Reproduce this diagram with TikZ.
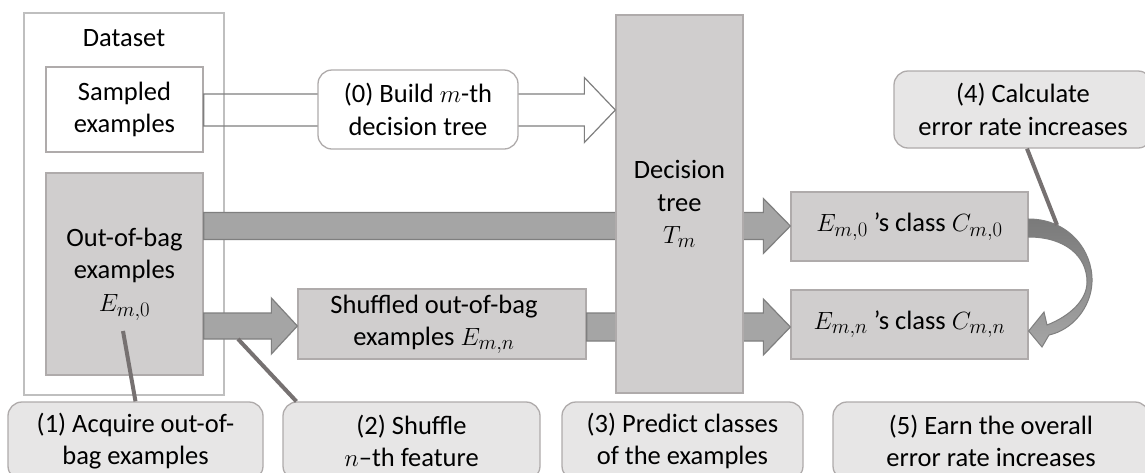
\documentclass[tikz,border=0pt]{standalone}
\usepackage{fontspec}
\setmainfont{Carlito}
\usetikzlibrary{calc}
\definecolor{boxgray}{HTML}{D0CECE}
\definecolor{boxline}{HTML}{AFABAB}
\definecolor{dsline}{HTML}{BFBFBF}
\definecolor{callfill}{HTML}{E7E6E6}
\definecolor{arrfill}{HTML}{A5A5A5}
\definecolor{arrline}{HTML}{7F7F7F}
\definecolor{arrdark}{HTML}{7A7A7A}
\definecolor{ptrline}{HTML}{767171}
\newcommand\harrow[6]{%
  \draw[#1] let \p1=(#2), \p2=(#3) in
   (\x1,\y1+#4) -- (\x2-#6,\y1+#4) -- (\x2-#6,\y1+#5) -- (\x2,\y1) --
   (\x2-#6,\y1-#5) -- (\x2-#6,\y1-#4) -- (\x1,\y1-#4) -- cycle;}
\newcommand\mth[1]{{\fontsize{29}{32.5}\selectfont$#1$}}
\begin{document}
\begin{tikzpicture}[x=1pt,y=-1pt,font=\fontsize{26.5}{32.5}\selectfont,
  graybox/.style={draw=boxline,fill=boxgray,line width=1.3pt,inner sep=0pt,align=center},
  whitebox/.style={draw=boxline,fill=white,line width=1.3pt,inner sep=0pt,align=center},
  dsbox/.style={draw=dsline,fill=white,line width=1.3pt,inner sep=0pt},
  callout/.style={draw=boxline,fill=callfill,line width=1.3pt,rounded corners=14pt,inner sep=0pt,align=center},
  wcallout/.style={draw=boxline,fill=white,line width=1.3pt,rounded corners=14pt,inner sep=0pt,align=center},
  fatarrow/.style={draw=arrline,fill=arrfill,line width=1.2pt,line join=miter},
  hollowarrow/.style={draw=arrline,line width=1.2pt,line join=miter},
  pointer/.style={draw=ptrline,line width=4pt},
  plain/.style={inner sep=0pt,align=center}]
\useasboundingbox (0,0) rectangle (1145,472);
\clip (0,0) rectangle (1145,472);
\fill[white] (0,0) rectangle (1145,472);

% dataset container
\node[dsbox,minimum width=200pt,minimum height=382pt] (ds) at (124,204) {};
\node[plain] (dstitle) at (124,38) {Dataset};
\node[whitebox,minimum width=157pt,minimum height=85pt] (sampled) at (124.5,109.5) {Sampled\\examples};

\node[graybox,minimum width=157pt,minimum height=202pt] (oob) at (124.5,274) {Out-of-bag\\examples\\\mth{E_{m,0}}};

% boxes on the right
\node[graybox,minimum width=288pt,minimum height=70pt] (shuf) at (442,324) {Shuffled out-of-bag\hspace*{16pt}\\examples \mth{E_{m,n}}\hspace*{16pt}};
\node[graybox,minimum width=237pt,minimum height=69pt] (E0) at (909.5,226.5) {\mth{E_{m,0}} ’s class \mth{C_{m,0}}};
\node[graybox,minimum width=237pt,minimum height=69pt] (En) at (909.5,324.5) {\mth{E_{m,n}} ’s class \mth{C_{m,n}}};

% fat arrows
\harrow{fatarrow}{oob.east |- 0,226}{E0.west}{13.5pt}{27.5pt}{27pt}
\harrow{fatarrow}{oob.east |- 0,326}{shuf.west}{13pt}{28pt}{26pt}
\harrow{fatarrow}{shuf.east |- 0,327}{En.west}{14pt}{28pt}{27pt}

% decision tree
\node[graybox,minimum width=127pt,minimum height=378pt] (dtree) at (679.5,204) {Decision\\tree\\\mth{T_m}};

% white arrow (0)
\harrow{hollowarrow}{sampled.east |- 0,110}{dtree.west}{16pt}{32.5pt}{31pt}

% curved arrow from E0 to En
\path[top color=arrdark,bottom color=arrfill,draw=arrline,line width=1pt,line join=miter]
  (E0.east |- 0,219) .. controls (1068,219) and (1093,250) .. (1092,282)
  .. controls (1091,308) and (1072,330) .. (1049,335)
  -- (1042,347) -- (En.east |- 0,331) -- (1044,312) -- (1047,325)
  .. controls (1070,316) and (1087,300) .. (1087,282)
  .. controls (1087,256) and (1065,237) .. (E0.east |- 0,237) -- cycle;

% callouts
\node[wcallout,minimum width=200pt,minimum height=79pt] (c0) at (418,109.5) {(0) Build \mth{m}-th\\decision tree};
\node[callout,minimum width=255pt,minimum height=78pt] (c1) at (135.5,441) {(1) Acquire out-of-\\bag examples};
\node[callout,minimum width=257pt,minimum height=78pt] (c2) at (411.5,441) {(2) Shuffle\\\mth{n}–th feature};
\node[callout,minimum width=241pt,minimum height=78pt] (c3) at (682.5,441) {(3) Predict classes\\of the examples};
\node[callout,minimum width=258pt,minimum height=77pt] (c4) at (1023,109.5) {(4) Calculate\\error rate increases};
\node[callout,minimum width=316pt,minimum height=78pt] (c5) at (991,441) {(5) Earn the overall\\error rate increases};

% pointer lines
\coordinate (p1) at (123,331);
\coordinate (p2) at (238,339);
\coordinate (p4) at (1057,225);
\draw[pointer] (c1.north) -- (p1);
\draw[pointer] ($(c2.north west)+(14,0)$) -- (p2);
\draw[pointer] (c4.south -| 1027,0) -- (p4);
\end{tikzpicture}
\end{document}
